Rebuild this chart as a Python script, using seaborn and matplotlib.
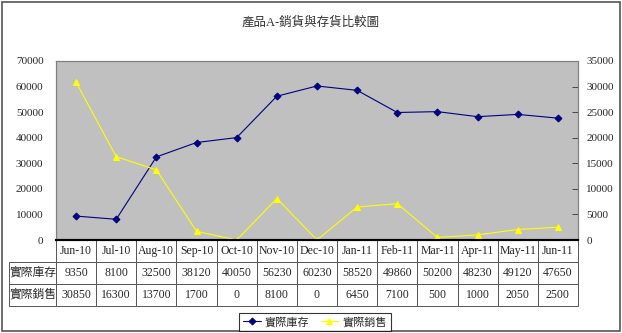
import matplotlib
matplotlib.use("Agg")
import matplotlib.pyplot as plt
import seaborn as sns
import pandas as pd
from matplotlib.patches import Rectangle

categories = ["Jun-10", "Jul-10", "Aug-10", "Sep-10", "Oct-10", "Nov-10", "Dec-10",
              "Jan-11", "Feb-11", "Mar-11", "Apr-11", "May-11", "Jun-11"]
inventory = [9350, 8100, 32500, 38120, 40050, 56230, 60230, 58520, 49860, 50200, 48230, 49120, 47650]
sales = [30850, 16300, 13700, 1700, 0, 8100, 0, 6450, 7100, 500, 1000, 2050, 2500]
series_names = ["實際庫存", "實際銷售"]
title = "產品A-銷貨與存貨比較圖"

sns.set_style("white")
plt.rcParams["font.family"] = ["Liberation Serif", "Noto Sans CJK TC"]

W, H = 622, 333
fig = plt.figure(figsize=(W / 100, H / 100), dpi=100)

L, R, T, B = 56, 578, 61, 240
ax = fig.add_axes([L / W, 1 - B / H, (R - L) / W, (B - T) / H])
ax.set_facecolor("#C0C0C0")

df = pd.DataFrame({"x": range(len(categories)), "cat": categories,
                   "inv": inventory, "sales": sales})

sns.lineplot(data=df, x="x", y="inv", ax=ax, color="#000080", marker="D",
             markersize=3.5, markeredgecolor="#000080", linewidth=0.8, label=series_names[0],
             legend=False)
ax2 = ax.twinx()
sns.lineplot(data=df, x="x", y="sales", ax=ax2, color="#FFFF00", marker="^",
             markersize=4.5, markeredgecolor="#FFFF00", linewidth=0.8, label=series_names[1],
             legend=False)

ax.set_xlim(-0.5, len(categories) - 0.5)
ax.set_ylim(0, 70000)
ax2.set_ylim(0, 35000)
ax.set_yticks(range(0, 70001, 10000))
ax2.set_yticks(range(0, 35001, 5000))
ax.set_xticks([])
ax.set_xlabel("")
ax.set_ylabel("")
ax2.set_ylabel("")
for a in (ax, ax2):
    a.tick_params(axis="y", labelsize=8, length=3, width=0.6, color="#333333", pad=6)
    for s in a.spines.values():
        s.set_color("#808080")
        s.set_linewidth(0.8)
ax.tick_params(axis="y", left=False)
ax2.tick_params(axis="y", right=True, direction="in", length=4)
for a in (ax, ax2):
    a.spines["bottom"].set_color("black")
    a.spines["bottom"].set_linewidth(1.5)

# data table: category header + values
tb_h = (306 - 240) / (B - T)
cell_text = [[str(v) for v in inventory], [str(v) for v in sales]]
tab = ax.table(cellText=cell_text, colLabels=categories, cellLoc="center",
               bbox=[0, -tb_h, 1, tb_h])
# row labels as a separate table to the left
lab = ax.table(cellText=[[n] for n in series_names], cellLoc="center",
               bbox=[(9 - L) / (R - L), -tb_h, (L - 9) / (R - L), tb_h * 2 / 3])
for t in (tab, lab):
    t.auto_set_font_size(False)
    t.set_fontsize(8.5)
    for (r, c), cell in t.get_celld().items():
        cell.set_edgecolor("#555555")
        cell.set_linewidth(0.7)
        cell.set_facecolor("white")
        cell.PAD = 0.02

# title
fig.text(0.5, 1 - 22 / H, title, ha="center", va="center", fontsize=9, color="#333333")

# legend
handles = ax.get_lines()[:1] + ax2.get_lines()[:1]
leg = fig.legend(handles, series_names, loc="center", bbox_to_anchor=(315 / W, 1 - 322 / H),
                 ncol=2, frameon=True, fancybox=False, edgecolor="black", fontsize=8,
                 handlelength=1.6, handletextpad=0.4, columnspacing=1.0,
                 borderpad=0.3, borderaxespad=0)
leg.get_frame().set_linewidth(0.8)

# outer border
fig.patches.append(Rectangle((2 / W, 2 / H), 1 - 4 / W, 1 - 4 / H, transform=fig.transFigure,
                             fill=False, edgecolor="#555555", linewidth=1.2))

fig.savefig("out.png", dpi=100)
